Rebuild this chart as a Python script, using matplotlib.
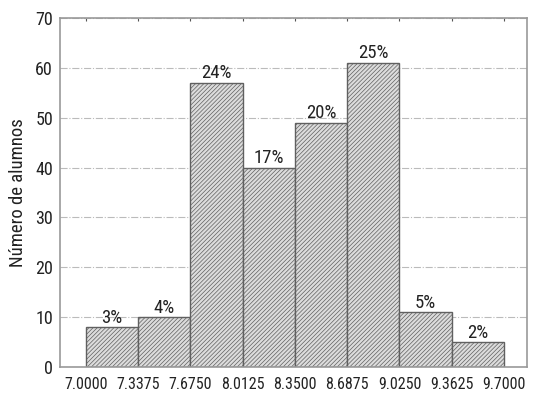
import numpy as np
import matplotlib
matplotlib.use("Agg")
from matplotlib import pyplot as plt

# histogram of student grades
edges = [7.0, 7.3375, 7.675, 8.0125, 8.35, 8.6875, 9.025, 9.3625, 9.7]
counts = [8, 10, 57, 40, 49, 61, 11, 5]
pct_labels = ["3%", "4%", "24%", "17%", "20%", "25%", "5%", "2%"]
tick_labels = ["7.0000", "7.3375", "7.6750", "8.0125", "8.3500",
               "8.6875", "9.0250", "9.3625", "9.7000"]

plt.rcParams['font.family'] = ['Roboto Condensed', 'DejaVu Sans']
plt.rcParams['hatch.color'] = '#9a9a9a'
plt.rcParams['hatch.linewidth'] = 0.5

fig = plt.figure(figsize=(5.39, 4.0), dpi=100)
ax = fig.add_axes([60/539, 33/400, 467/539, 349/400])

widths = np.diff(edges)
bars = ax.bar(edges[:-1], counts, width=widths, align='edge',
              facecolor='#dcdcdc', edgecolor='#606060', linewidth=1.0,
              hatch='////////', zorder=2)

for b, lab in zip(bars, pct_labels):
    ax.text(b.get_x() + b.get_width()/2, b.get_height() + 0.1, lab,
            ha='center', va='bottom', fontsize=13.5, color='#222222', zorder=3)

ax.set_xlim(6.832, 9.849)
ax.set_ylim(0, 70)
ax.set_xticks(edges)
ax.set_xticklabels(tick_labels)
ax.set_yticks(range(0, 71, 10))
ax.tick_params(axis='y', labelsize=13, colors='#222222', length=0, pad=5)
ax.tick_params(axis='x', labelsize=11.5, colors='#222222', length=0, pad=7)
ax.tick_params(axis='x', top=True, direction='in', length=2, color='#555555')
ax.tick_params(axis='x', bottom=False)
ax.yaxis.grid(True, linestyle='-.', color='#bbbbbb', linewidth=0.8, zorder=0)
ax.set_axisbelow(True)
for s in ax.spines.values():
    s.set_color('#999999')
    s.set_linewidth(1.2)
ax.set_ylabel("Número de alumnos", fontsize=13.5, color='#222222', labelpad=6)

fig.savefig("out.png", dpi=100)
